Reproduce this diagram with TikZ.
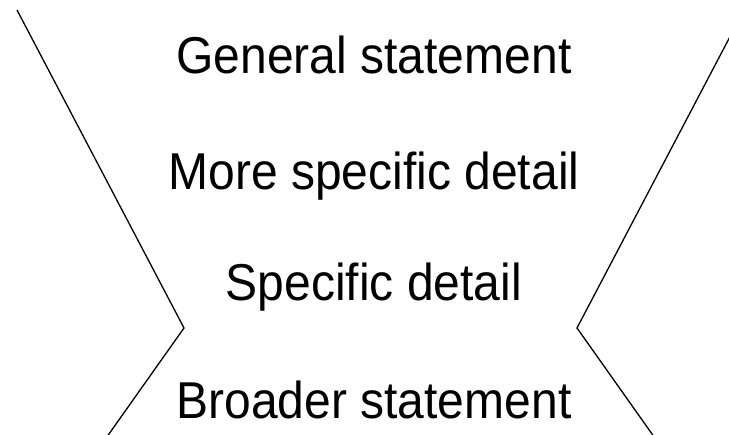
\documentclass[tikz,border=0pt]{standalone}
\usepackage{fontspec}
\setmainfont{Liberation Sans}
\begin{document}
\begin{tikzpicture}[x=1pt,y=-1pt,
  edge/.style={draw=black,line width=1.3pt,line join=miter},
  lbl/.style={anchor=base,inner sep=0pt,font=\fontsize{48}{50}\selectfont}]
\useasboundingbox (0,0) rectangle (729,435);
\clip (0,0) rectangle (729,435);
\coordinate (lt) at (17,10);
\coordinate (lm) at (184,328);
\coordinate (lb) at (104,441);
\coordinate (rt) at (744,10);
\coordinate (rm) at (577,328);
\coordinate (rb) at (657,441);
\draw[edge] (lt) -- (lm) -- (lb);
\draw[edge] (rt) -- (rm) -- (rb);
\node[lbl] (t1) at (374,74) {\scalebox{1}[1.08]{General statement}};
\node[lbl] (t2) at (374,190) {\scalebox{1}[1.08]{More specific detail}};
\node[lbl] (t3) at (374,301) {\scalebox{1}[1.08]{Specific detail}};
\node[lbl] (t4) at (374,419) {\scalebox{1}[1.08]{Broader statement}};
\end{tikzpicture}
\end{document}
